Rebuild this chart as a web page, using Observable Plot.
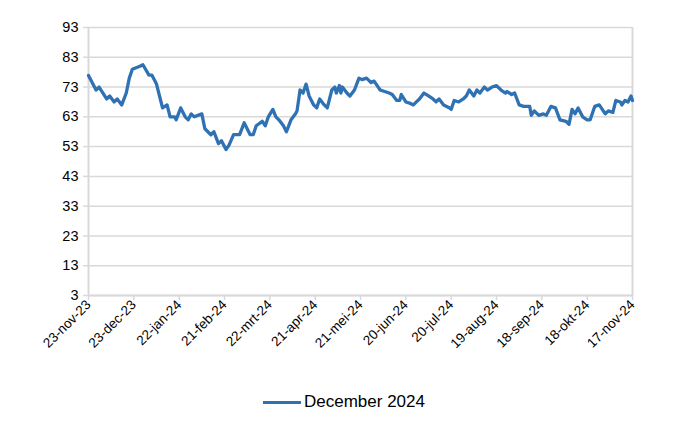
<!DOCTYPE html>
<html>
<head>
<meta charset="utf-8">
<script src="https://cdn.jsdelivr.net/npm/d3@7"></script>
<script src="https://cdn.jsdelivr.net/npm/@observablehq/plot@0.6"></script>
<style>
  body { margin: 0; background: #fff; font-family: "Liberation Sans", Arial, sans-serif; }
  #chart { width: 700px; }
  .legend { position: relative; height: 60px; width: 700px; }
  .legend .item { position: absolute; left: 263px; top: 32px; display: flex; align-items: center; font-size: 17px; color: #000; }
  .legend .sw { width: 38px; height: 3px; background: #2E72B3; margin-right: 3px; }
</style>
</head>
<body>
<div id="chart"></div>
<script>
const startDate = "2023-11-23";
const seriesName = "December 2024";
const dayOffsets = [0,5,7,12,14,17,19,22,25,27,29,34,36,40,42,45,47,49,52,54,57,58,61,64,66,68,70,75,77,81,83,86,88,91,93,96,100,103,105,107,109,111,115,117,119,122,124,126,129,131,134,137,138,140,142,144,146,149,151,153,156,158,161,163,164,166,167,168,171,173,176,179,181,184,187,189,193,196,199,201,204,206,207,210,213,215,217,219,222,225,228,230,232,235,239,240,242,245,248,250,252,255,257,259,262,264,267,270,273,276,277,280,282,285,288,292,293,295,298,301,303,306,309,312,316,318,320,322,324,327,330,332,335,338,342,344,347,349,352,353,355,357,359,360];
const values = [76.9,72,73,69,70,68,69,67,71,76,79,80,80.5,77,77,74,70,66,67,63,63,62,66,63,62,64,63,64,59,57,58,54,55,52,53.5,57,57,61,59,57,57,60,61.5,60,63,65.5,63,62,60,58,62,64,65,72,71,74,70,67,66,69,67,66,72,73,71,73.5,71,73,71,70,72,76,75.5,76,74.5,75,72,71.5,71,70.5,68.5,68.5,70.5,68,67.5,67,68,69,71,70,69,68,69,67,66,65.5,68.5,68,69,70,72,70,72,71,73,72,73,73.5,72,71,71.5,70.5,71,67,66.5,66.5,63.5,65,63.5,64,63.5,66.5,66,62,61.5,60.5,65.5,64,66,63,62,62,66.5,67,64,65,64.5,68.5,68,67,68.5,68,70,68.5];
const tickDates = ["2023-11-23","2023-12-23","2024-01-22","2024-02-21","2024-03-22","2024-04-21","2024-05-21","2024-06-20","2024-07-20","2024-08-19","2024-09-18","2024-10-18","2024-11-17"];
const tickLabels = ["23-nov-23","23-dec-23","22-jan-24","21-feb-24","22-mrt-24","21-apr-24","21-mei-24","20-jun-24","20-jul-24","19-aug-24","18-sep-24","18-okt-24","17-nov-24"];
const yTicks = [3,13,23,33,43,53,63,73,83,93];

const start = new Date(startDate + "T00:00:00Z");
const data = dayOffsets.map((d, i) => ({date: d3.utcDay.offset(start, d), value: values[i]}));
const ticks = tickDates.map(s => new Date(s + "T00:00:00Z"));
const labelOf = new Map(ticks.map((t, i) => [+t, tickLabels[i]]));
const domain = [ticks[0], ticks[ticks.length - 1]];

const chart = Plot.plot({
  width: 700,
  height: 360,
  marginLeft: 88,
  marginRight: 68,
  marginTop: 27,
  marginBottom: 65,
  style: {fontFamily: "Liberation Sans, Arial, sans-serif", background: "#fff", color: "#000"},
  x: {type: "utc", domain},
  y: {domain: [3, 93]},
  marks: [
    Plot.ruleY(yTicks, {stroke: "#d9d9d9", strokeWidth: 1.5}),
    Plot.ruleX(domain, {stroke: "#d9d9d9", strokeWidth: 2}),
    Plot.ruleY([3], {stroke: "#d9d9d9", strokeWidth: 2}),
    Plot.axisY({ticks: yTicks, tickSize: 5, tickPadding: 5, fontSize: 14.5, stroke: "#d9d9d9", strokeWidth: 1.5, label: null, tickFormat: d => String(d)}),
    Plot.axisX({ticks, tickSize: 5, tickPadding: 2, tickRotate: -45, fontSize: 13.5, stroke: "#d9d9d9", strokeWidth: 1.5, label: null, tickFormat: d => labelOf.get(+d)}),
    Plot.line(data, {x: "date", y: "value", stroke: "#2E72B3", strokeWidth: 3.3, strokeLinejoin: "round"})
  ]
});
document.getElementById("chart").appendChild(chart);
</script>
<div class="legend"><div class="item"><div class="sw"></div><span id="lg"></span></div></div>
<script>document.getElementById("lg").textContent = seriesName;</script>
</body>
</html>
